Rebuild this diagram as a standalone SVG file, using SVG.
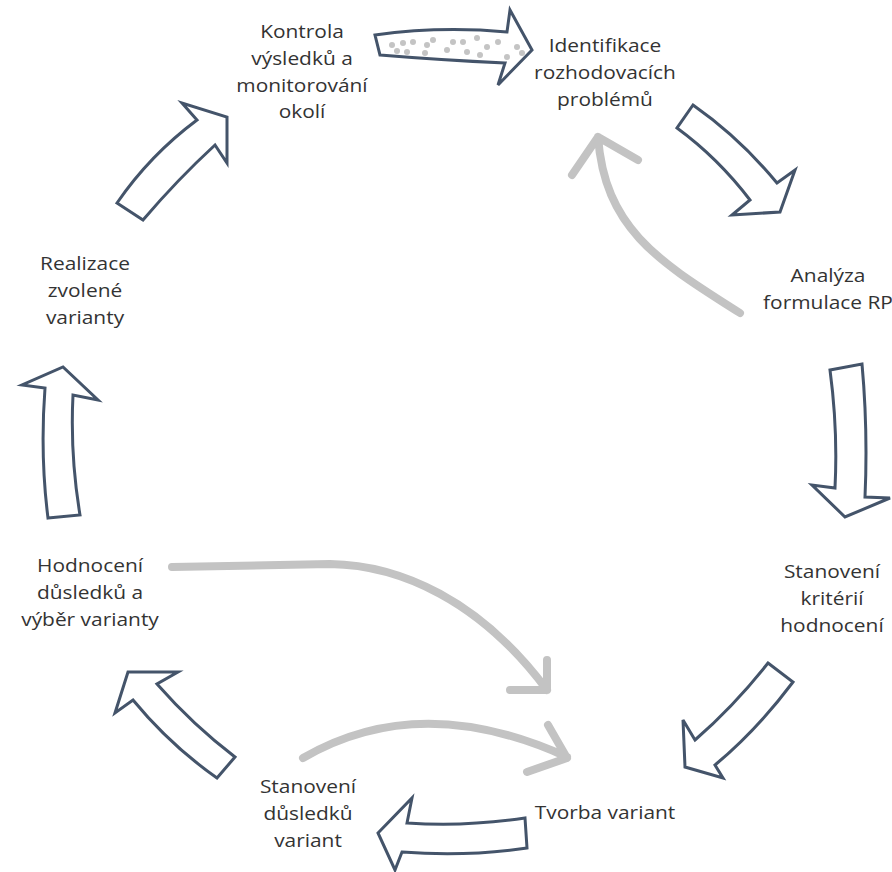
<svg xmlns="http://www.w3.org/2000/svg" width="892" height="872" viewBox="0 0 892 872">
<style>
.blk{fill:#fff;stroke:#44546a;stroke-width:3;stroke-linejoin:miter}
.gr{fill:none;stroke:#c3c3c3;stroke-width:8;stroke-linecap:round;stroke-linejoin:round}
.t{font-family:"Open Sans","Noto Sans",sans-serif;font-size:19px;fill:#333;text-anchor:middle}
.d{fill:#c4c4c4}
</style>
<rect width="892" height="872" fill="#fff"/>
<g id="connectors">
<path class="blk" d="M375,35 Q440,26 507,32 L510,10 L532,50 L498,85 L505,63 Q440,60 380,55 Z"/>
<g>
<circle class="d" cx="392" cy="45" r="3"/><circle class="d" cx="397" cy="51" r="3"/><circle class="d" cx="403" cy="43" r="3"/><circle class="d" cx="407" cy="52" r="3"/><circle class="d" cx="413" cy="42" r="3"/><circle class="d" cx="427" cy="45" r="3"/><circle class="d" cx="425" cy="53" r="3"/><circle class="d" cx="433" cy="40" r="3"/><circle class="d" cx="447" cy="50" r="3"/><circle class="d" cx="453" cy="42" r="3"/><circle class="d" cx="463" cy="42" r="3"/><circle class="d" cx="467" cy="52" r="3"/><circle class="d" cx="477" cy="38" r="3"/><circle class="d" cx="480" cy="55" r="3"/><circle class="d" cx="487" cy="47" r="3"/><circle class="d" cx="498" cy="42" r="3"/><circle class="d" cx="507" cy="57" r="3"/><circle class="d" cx="517" cy="47" r="3"/><circle class="d" cx="522" cy="53" r="3"/>
</g>
<path class="blk" d="M693,105 Q740,138 777,183 L795,170 L780,212 L732,215 L750,200 Q718,158 677,128 Z"/>
<path class="blk" d="M830,370 L862,364 Q868,430 865,497 L890,498 L845,517 L812,485 L835,488 Q838,430 830,370 Z"/>
<path class="blk" d="M768,663 L793,682 Q757,730 715,765 L723,778 L685,767 L683,720 L695,740 Q735,705 768,663 Z"/>
<path class="blk" d="M525,818 Q466,827 407,823 L412,798 L378,833 L395,870 L402,852 Q466,857 527,848 Z"/>
<path class="blk" d="M235,757 L217,778 Q170,745 133,700 L115,713 L128,672 L178,672 L157,684 Q193,725 235,757 Z"/>
<path class="blk" d="M48,518 L80,515 Q70,455 73,395 L98,400 L63,367 L22,385 L45,388 Q40,455 48,518 Z"/>
<path class="blk" d="M117,203 L143,220 Q177,180 215,145 L227,163 L227,117 L182,103 L197,120 Q150,155 117,203 Z"/>
<path class="gr" d="M740,313 C660,262 605,230 598,137 M572,175 L598,137 L638,160"/>
<path class="gr" d="M172,567 L330,564 C400,565 480,600 547,690 M547,660 L547,690 L510,690"/>
<path class="gr" d="M303,758 Q420,690 567,757 M548,725 L567,758 L527,772"/>
</g>
<g id="n1" transform="translate(302,0) scale(1.1,1)"><text class="t" x="0" y="38">Kontrola</text><text class="t" x="0" y="65">výsledků a</text><text class="t" x="0" y="92">monitorování</text><text class="t" x="0" y="118">okolí</text></g>
<g id="n2" transform="translate(605,0) scale(1.1,1)"><text class="t" x="0" y="52">Identifikace</text><text class="t" x="0" y="79">rozhodovacích</text><text class="t" x="0" y="106">problémů</text></g>
<g id="n3" transform="translate(828,0) scale(1.1,1)"><text class="t" x="0" y="282">Analýza</text><text class="t" x="0" y="309">formulace RP</text></g>
<g id="n4" transform="translate(832,0) scale(1.1,1)"><text class="t" x="0" y="578">Stanovení</text><text class="t" x="0" y="605">kritérií</text><text class="t" x="0" y="632">hodnocení</text></g>
<g id="n5" transform="translate(605,0) scale(1.1,1)"><text class="t" x="0" y="819">Tvorba variant</text></g>
<g id="n6" transform="translate(308,0) scale(1.1,1)"><text class="t" x="0" y="793">Stanovení</text><text class="t" x="0" y="820">důsledků</text><text class="t" x="0" y="847">variant</text></g>
<g id="n7" transform="translate(90,0) scale(1.1,1)"><text class="t" x="0" y="572">Hodnocení</text><text class="t" x="0" y="599">důsledků a</text><text class="t" x="0" y="626">výběr varianty</text></g>
<g id="n8" transform="translate(85,0) scale(1.1,1)"><text class="t" x="0" y="270">Realizace</text><text class="t" x="0" y="297">zvolené</text><text class="t" x="0" y="324">varianty</text></g>
</svg>
